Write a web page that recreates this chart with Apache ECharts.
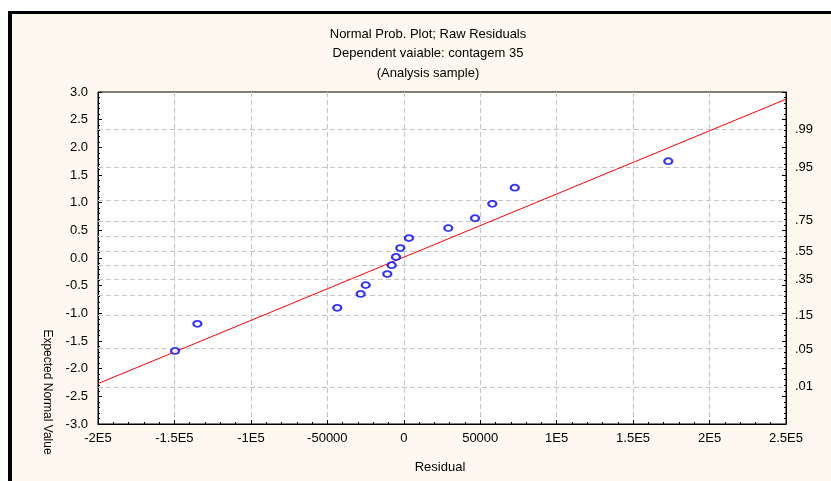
<!DOCTYPE html>
<html>
<head>
<meta charset="utf-8">
<script src="https://cdn.jsdelivr.net/npm/echarts@6/dist/echarts.min.js"></script>
<style>
html,body{margin:0;padding:0;background:#ffffff;width:831px;height:481px;overflow:hidden;}
#bg{position:absolute;left:8px;top:11px;width:900px;height:600px;background:#fdf9ee;border-left:4px solid #000;border-top:3px solid #000;}
#chart{position:absolute;left:0;top:0;width:831px;height:481px;}
</style>
</head>
<body>
<div id="bg"></div>
<div id="chart"></div>
<script>
// ---- data ----
var titleLines = ['Normal Prob. Plot; Raw Residuals', 'Dependent vaiable: contagem 35', '(Analysis sample)'];
var residual = [-149600, -135000, -43500, -28200, -24900, -10800, -7900, -5100, -2300, 3400, 29100, 46600, 57900, 72600, 173000];
var expectedNormal = [-1.68, -1.19, -0.90, -0.65, -0.49, -0.29, -0.13, 0.02, 0.18, 0.36, 0.54, 0.72, 0.98, 1.27, 1.75];
var lineX = [-200000, 250000];
var lineZ = [-2.27, 2.87];
var xTickValues = [-200000, -150000, -100000, -50000, 0, 50000, 100000, 150000, 200000, 250000];
var xTickLabels = ['-2E5', '-1.5E5', '-1E5', '-50000', '0', '50000', '1E5', '1.5E5', '2E5', '2.5E5'];
var probGrid = [0.01, 0.05, 0.15, 0.25, 0.35, 0.45, 0.55, 0.65, 0.75, 0.85, 0.95, 0.99];
var probLabelValues = [0.99, 0.95, 0.75, 0.55, 0.35, 0.15, 0.05, 0.01];
var probLabels = ['.99', '.95', '.75', '.55', '.35', '.15', '.05', '.01'];

// inverse standard normal (Acklam)
function probit(p) {
  var a = [-3.969683028665376e+01, 2.209460984245205e+02, -2.759285104469687e+02, 1.383577518672690e+02, -3.066479806614716e+01, 2.506628277459239e+00];
  var b = [-5.447609879822406e+01, 1.615858368580409e+02, -1.556989798598866e+02, 6.680131188771972e+01, -1.328068155288572e+01];
  var c = [-7.784894002430293e-03, -3.223964580411365e-01, -2.400758277161838e+00, -2.549732539343734e+00, 4.374664141464968e+00, 2.938163982698783e+00];
  var d = [7.784695709041462e-03, 3.224671290700398e-01, 2.445134137142996e+00, 3.754408661907416e+00];
  var pl = 0.02425, q, r;
  if (p < pl) { q = Math.sqrt(-2 * Math.log(p)); return (((((c[0]*q+c[1])*q+c[2])*q+c[3])*q+c[4])*q+c[5]) / ((((d[0]*q+d[1])*q+d[2])*q+d[3])*q+1); }
  if (p > 1 - pl) { q = Math.sqrt(-2 * Math.log(1 - p)); return -(((((c[0]*q+c[1])*q+c[2])*q+c[3])*q+c[4])*q+c[5]) / ((((d[0]*q+d[1])*q+d[2])*q+d[3])*q+1); }
  q = p - 0.5; r = q * q;
  return (((((a[0]*r+a[1])*r+a[2])*r+a[3])*r+a[4])*r+a[5])*q / (((((b[0]*r+b[1])*r+b[2])*r+b[3])*r+b[4])*r+1);
}

var FONT = '"Liberation Sans", Arial, sans-serif';
var probZ = probLabelValues.map(probit);
var scatterData = residual.map(function (x, i) { return [x, expectedNormal[i]]; });
var lineData = lineX.map(function (x, i) { return [x, lineZ[i]]; });

var chart = echarts.init(document.getElementById('chart'), null, { renderer: 'canvas' });
var option = {
  animation: false,
  backgroundColor: 'transparent',
  textStyle: { fontFamily: FONT },
  grid: { left: 98, top: 92, width: 688, height: 332, show: true, backgroundColor: '#ffffff', borderColor: '#000000', borderWidth: 1, containLabel: false },
  xAxis: {
    type: 'value', min: -200000, max: 250000, interval: 50000,
    axisLine: { show: true, onZero: false, lineStyle: { color: '#000', width: 1 } },
    axisTick: { show: true, inside: true, length: 4, lineStyle: { color: '#000' } },
    minorTick: { show: true, splitNumber: 5, length: 2, lineStyle: { color: '#000' } },
    splitLine: { show: true, lineStyle: { color: '#c4c4c4', type: [5, 3], width: 1 } },
    axisLabel: {
      margin: 8, color: '#000', fontSize: 13, fontFamily: FONT, showMinLabel: true, showMaxLabel: true,
      formatter: function (v) { var i = xTickValues.indexOf(v); return i >= 0 ? xTickLabels[i] : ''; }
    }
  },
  yAxis: [{
    type: 'value', min: -3, max: 3, interval: 0.5, position: 'left',
    axisLine: { show: true, onZero: false, lineStyle: { color: '#000', width: 1 } },
    axisTick: { show: true, inside: true, length: 4, lineStyle: { color: '#000' } },
    minorTick: { show: true, splitNumber: 5, length: 2, lineStyle: { color: '#000' } },
    splitLine: { show: false },
    axisLabel: { margin: 10, color: '#000', fontSize: 13, fontFamily: FONT, formatter: function (v) { return v.toFixed(1); } }
  }, {
    type: 'value', min: -3, max: 3, interval: 0.5, position: 'right',
    axisLine: { show: true, onZero: false, lineStyle: { color: '#000', width: 1 } },
    axisTick: { show: true, inside: true, length: 4, lineStyle: { color: '#000' } },
    minorTick: { show: true, splitNumber: 5, length: 2, lineStyle: { color: '#000' } },
    splitLine: { show: false },
    axisLabel: {
      customValues: probZ, margin: 9, color: '#000', fontSize: 13, fontFamily: FONT,
      formatter: function (v) {
        for (var i = 0; i < probZ.length; i++) { if (Math.abs(probZ[i] - v) < 1e-6) return probLabels[i]; }
        return '';
      }
    }
  }],
  graphic: [
    { type: 'text', x: 428, y: 34, style: { text: titleLines[0], fill: '#000', font: '13px ' + FONT, align: 'center', verticalAlign: 'middle' } },
    { type: 'text', x: 428, y: 53, style: { text: titleLines[1], fill: '#000', font: '13px ' + FONT, align: 'center', verticalAlign: 'middle' } },
    { type: 'text', x: 428, y: 73, style: { text: titleLines[2], fill: '#000', font: '13px ' + FONT, align: 'center', verticalAlign: 'middle' } },
    { type: 'text', x: 440, y: 467, style: { text: 'Residual', fill: '#000', font: '13px ' + FONT, align: 'center', verticalAlign: 'middle' } },
    { type: 'text', x: 47, y: 392, rotation: -Math.PI / 2, style: { text: 'Expected Normal Value', fill: '#000', font: '12px ' + FONT, align: 'center', verticalAlign: 'middle' } }
  ],
  series: [{
    type: 'line', data: [], xAxisIndex: 0, yAxisIndex: 0, z: 1, silent: true,
    markLine: {
      silent: true, z: 1, symbol: ['none', 'none'], label: { show: false },
      lineStyle: { color: '#c4c4c4', type: [5, 3], width: 1 },
      emphasis: { disabled: true },
      data: probGrid.map(function (p) { return { yAxis: probit(p) }; })
    }
  }, {
    type: 'line', data: lineData, xAxisIndex: 0, yAxisIndex: 0, z: 2, showSymbol: false, symbol: 'none',
    lineStyle: { color: '#ff0000', width: 1 }, silent: true
  }, {
    type: 'scatter', data: scatterData, xAxisIndex: 0, yAxisIndex: 0, z: 3,
    symbol: 'emptyCircle', symbolSize: [8, 6],
    itemStyle: { color: '#0000ff', borderColor: '#0000ff', borderWidth: 1 }
  }]
};
chart.setOption(option);
</script>
</body>
</html>
